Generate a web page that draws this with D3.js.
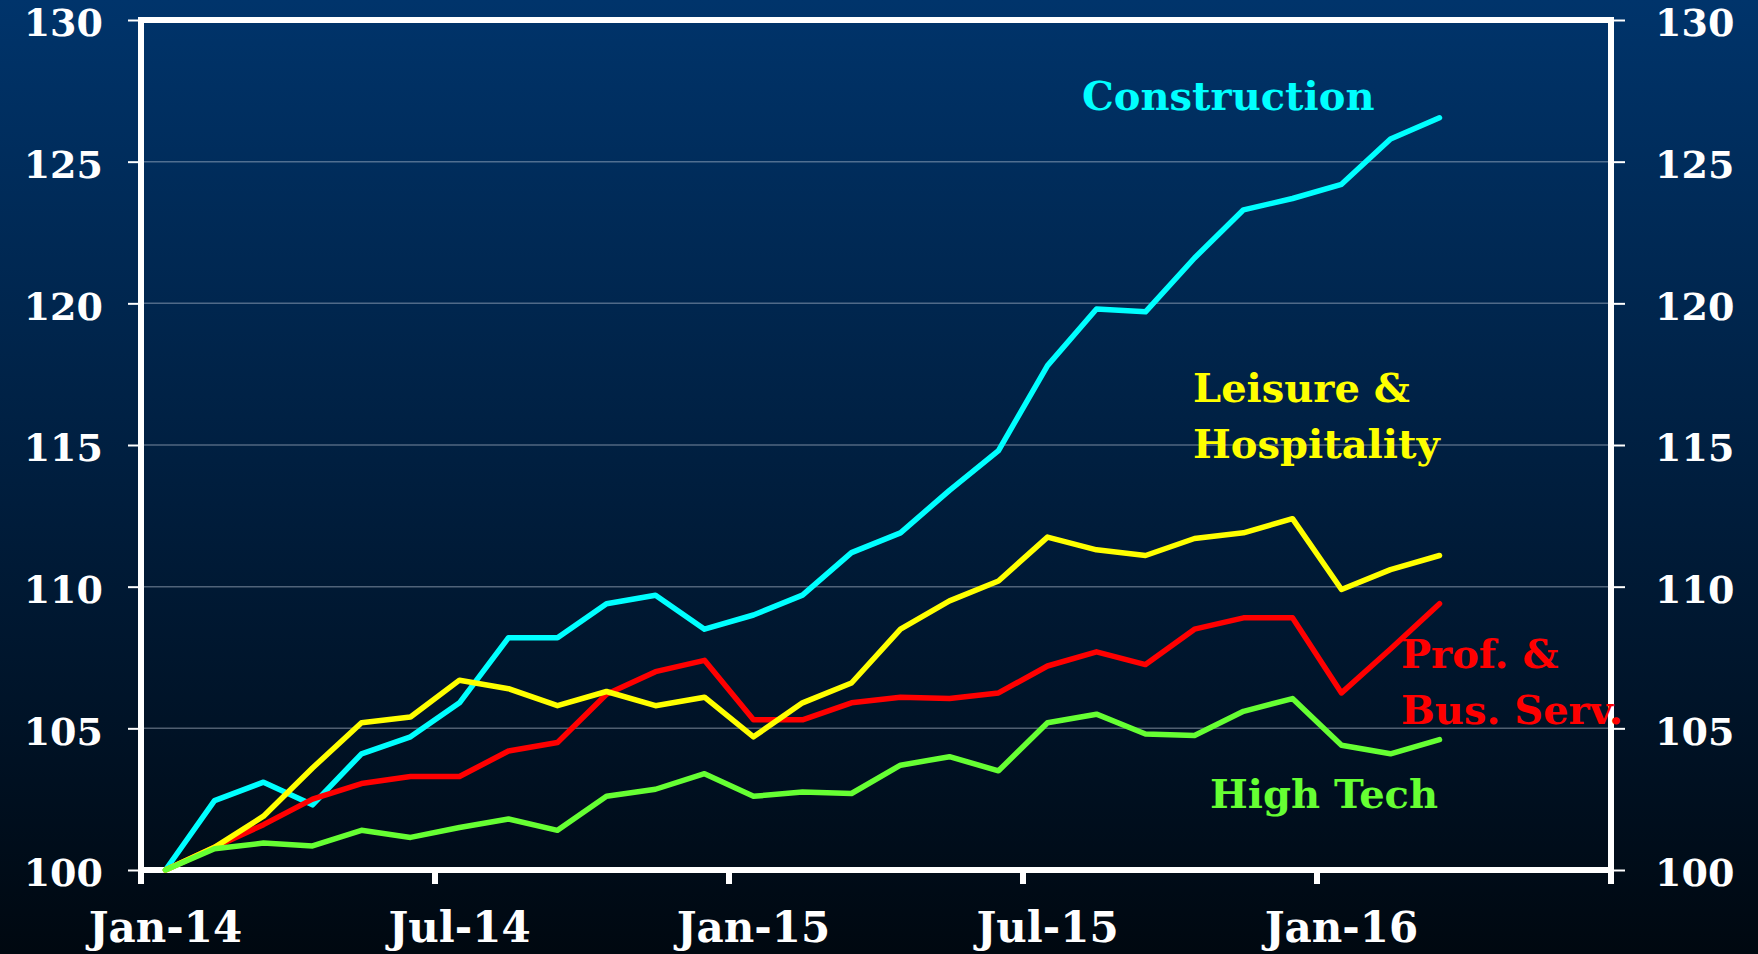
<!DOCTYPE html>
<html>
<head>
<meta charset="utf-8">
<script src="https://cdn.jsdelivr.net/npm/d3@7.9.0/dist/d3.min.js"></script>
<style>
  html, body { margin: 0; padding: 0; background: #000810; }
  svg { display: block; }
  text { font-family: Georgia, "DejaVu Serif", serif; font-weight: bold; }
</style>
</head>
<body>
<div id="chart"></div>
<script>
// ---- data ----
const months = [
  "Jan-14","Feb-14","Mar-14","Apr-14","May-14","Jun-14","Jul-14","Aug-14","Sep-14","Oct-14","Nov-14","Dec-14",
  "Jan-15","Feb-15","Mar-15","Apr-15","May-15","Jun-15","Jul-15","Aug-15","Sep-15","Oct-15","Nov-15","Dec-15",
  "Jan-16","Feb-16","Mar-16","Apr-16","May-16","Jun-16"
];
const tickLabels = ["Jan-14", "Jul-14", "Jan-15", "Jul-15", "Jan-16"];
const yTicks = [100, 105, 110, 115, 120, 125, 130];

const construction = [100, 102.45, 103.1, 102.3, 104.1, 104.7, 105.9, 108.2, 108.2, 109.4, 109.7, 108.5,
  109.0, 109.7, 111.2, 111.9, 113.4, 114.8, 117.8, 119.8, 119.7, 121.6, 123.3, 123.7, 124.2, 125.8, 126.55];
const leisure = [100, 100.8, 101.9, 103.6, 105.2, 105.4, 106.7, 106.4, 105.8, 106.3, 105.8, 106.1,
  104.7, 105.9, 106.6, 108.5, 109.5, 110.2, 111.75, 111.3, 111.1, 111.7, 111.9, 112.4, 109.9, 110.6, 111.1];
const profBus = [100, 100.8, 101.6, 102.5, 103.05, 103.3, 103.3, 104.2, 104.5, 106.2, 107.0, 107.4,
  105.3, 105.3, 105.9, 106.1, 106.05, 106.25, 107.2, 107.7, 107.25, 108.5, 108.9, 108.9, 106.25, 107.8, 109.4];
const highTech = [100, 100.75, 100.95, 100.85, 101.4, 101.15, 101.5, 101.8, 101.4, 102.6, 102.85, 103.4,
  102.6, 102.75, 102.7, 103.7, 104.0, 103.5, 105.2, 105.5, 104.8, 104.75, 105.6, 106.05, 104.4, 104.1, 104.6];

const series = [
  { name: "Construction", values: construction, color: "#00ffff" },
  { name: "Prof. & Bus. Serv.", values: profBus, color: "#ff0000" },
  { name: "Leisure & Hospitality", values: leisure, color: "#ffff00" },
  { name: "High Tech", values: highTech, color: "#66ff33" }
];

// ---- layout ----
const W = 1758, H = 954;
const plot = { left: 141, top: 20, right: 1611, bottom: 870 };

const svg = d3.select("#chart").append("svg")
  .attr("width", W)
  .attr("height", H);

// background gradient
const grad = svg.append("defs").append("linearGradient")
  .attr("id", "bg")
  .attr("x1", 0).attr("y1", 0).attr("x2", 0).attr("y2", 1);
grad.append("stop").attr("offset", "0%").attr("stop-color", "#00346b");
grad.append("stop").attr("offset", "55%").attr("stop-color", "#001c3a");
grad.append("stop").attr("offset", "100%").attr("stop-color", "#000810");

svg.append("rect")
  .attr("width", W)
  .attr("height", H)
  .attr("fill", "url(#bg)");

// scales
const x = d3.scaleBand()
  .domain(months)
  .range([plot.left, plot.right])
  .padding(0);

const y = d3.scaleLinear()
  .domain([100, 130])
  .range([plot.bottom, plot.top]);

const cx = (i) => x(months[i]) + x.bandwidth() / 2;

// gridlines
svg.append("g")
  .selectAll("line")
  .data(yTicks.filter(t => t > 100 && t < 130))
  .join("line")
  .attr("x1", plot.left)
  .attr("x2", plot.right)
  .attr("y1", d => y(d))
  .attr("y2", d => y(d))
  .attr("stroke", "rgba(200,210,225,0.4)")
  .attr("stroke-width", 1.5);

// left axis
const leftAxis = svg.append("g")
  .attr("transform", `translate(${plot.left},0)`)
  .call(d3.axisLeft(y).tickValues(yTicks).tickSize(13).tickPadding(25).tickFormat(d3.format("d")));

// right axis
const rightAxis = svg.append("g")
  .attr("transform", `translate(${plot.right},0)`)
  .call(d3.axisRight(y).tickValues(yTicks).tickSize(14).tickPadding(30).tickFormat(d3.format("d")));

[leftAxis, rightAxis].forEach(g => {
  g.select(".domain").remove();
  g.selectAll(".tick line").attr("stroke", "#fff").attr("stroke-width", 2);
  g.selectAll(".tick text")
    .attr("fill", "#fff")
    .attr("dy", "0.42em")
    .style("font-size", "38px")
    .style("font-family", "Georgia, 'DejaVu Serif', serif")
    .style("font-weight", "bold");
});

// bottom axis: labels centred on categories, ticks at category boundaries
const bottomAxis = svg.append("g")
  .attr("transform", `translate(0,${plot.bottom})`)
  .call(d3.axisBottom(x).tickValues(tickLabels).tickSize(0).tickPadding(42));
bottomAxis.select(".domain").remove();
bottomAxis.selectAll(".tick text")
  .attr("fill", "#fff")
  .style("font-size", "42px")
  .style("font-family", "Georgia, 'DejaVu Serif', serif")
  .style("font-weight", "bold");

const boundaryIdx = [0, 6, 12, 18, 24, 30];
svg.append("g")
  .selectAll("line")
  .data(boundaryIdx)
  .join("line")
  .attr("x1", d => d < months.length ? x(months[d]) : x.range()[1])
  .attr("x2", d => d < months.length ? x(months[d]) : x.range()[1])
  .attr("y1", plot.bottom)
  .attr("y2", plot.bottom + 14)
  .attr("stroke", "#fff")
  .attr("stroke-width", 6);

// frame
svg.append("rect")
  .attr("x", plot.left)
  .attr("y", plot.top)
  .attr("width", plot.right - plot.left)
  .attr("height", plot.bottom - plot.top)
  .attr("fill", "none")
  .attr("stroke", "#fff")
  .attr("stroke-width", 6);

// lines
const line = d3.line()
  .x((d, i) => cx(i))
  .y(d => y(d));

svg.append("g")
  .selectAll("path")
  .data(series)
  .join("path")
  .attr("fill", "none")
  .attr("stroke", d => d.color)
  .attr("stroke-width", 5.5)
  .attr("stroke-linejoin", "round")
  .attr("stroke-linecap", "round")
  .attr("d", d => line(d.values));

// series labels
const labels = [
  { lines: ["Construction"], x: 1082, y: 110, color: "#00ffff" },
  { lines: ["Leisure &", "Hospitality"], x: 1193, y: 402, color: "#ffff00" },
  { lines: ["Prof. &", "Bus. Serv."], x: 1401, y: 668, color: "#ff0000" },
  { lines: ["High Tech"], x: 1210, y: 808, color: "#66ff33" }
];

svg.append("g")
  .selectAll("text")
  .data(labels)
  .join("text")
  .attr("fill", d => d.color)
  .style("font-size", "40px")
  .each(function(d) {
    d3.select(this).selectAll("tspan")
      .data(d.lines)
      .join("tspan")
      .attr("x", d.x)
      .attr("y", (t, i) => d.y + i * 56)
      .text(t => t);
  });
</script>
</body>
</html>
